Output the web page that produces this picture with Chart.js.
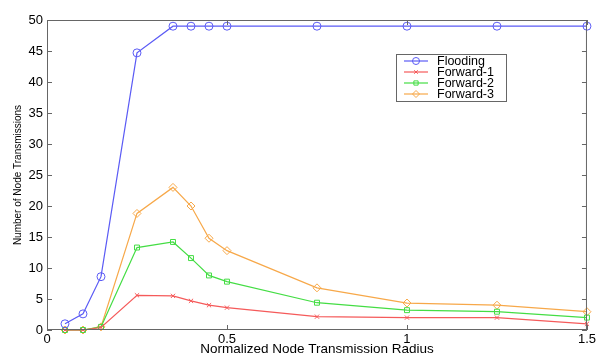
<!DOCTYPE html>
<html><head><meta charset="utf-8">
<script src="https://cdn.jsdelivr.net/npm/chart.js@4/dist/chart.umd.min.js"></script>
<style>html,body{margin:0;padding:0;background:#fff}#wrap{width:598px;height:354px;position:relative}</style>
</head><body><div id="wrap"><canvas id="c" width="598" height="354"></canvas></div>
<script>
const radius = [0.05, 0.1, 0.15, 0.25, 0.35, 0.4, 0.45, 0.5, 0.75, 1, 1.25, 1.5];
const flooding = [1.0, 2.6, 8.6, 44.7, 49, 49, 49, 49, 49, 49, 49, 49];
const forward1 = [0, 0, 0.4, 5.6, 5.5, 4.7, 4.0, 3.6, 2.15, 2.0, 2.0, 1.0];
const forward2 = [0, 0, 0.5, 13.3, 14.2, 11.6, 8.8, 7.8, 4.4, 3.2, 2.95, 2.0];
const forward3 = [0, 0, 0.5, 18.8, 23.0, 20.0, 14.8, 12.8, 6.8, 4.35, 4.0, 2.95];
const xTicks = [0, 0.5, 1, 1.5];
const yTicks = [0, 5, 10, 15, 20, 25, 30, 35, 40, 45, 50];
const seriesNames = ['Flooding', 'Forward-1', 'Forward-2', 'Forward-3'];

const pts = arr => radius.map((x, i) => ({x, y: arr[i]}));
const colors = ['#5b5bf5', '#f55a5a', '#44dd44', '#f7a849'];
const styles = ['circle', 'crossRot', 'rect', 'rectRot'];
const sizes = [4, 3, 3.5, 4];
const dataArr = [flooding, forward1, forward2, forward3];

const datasets = seriesNames.map((n, i) => ({
  label: n, data: pts(dataArr[i]), borderColor: colors[i], backgroundColor: 'rgba(0,0,0,0)',
  pointStyle: styles[i], pointRadius: sizes[i], pointBorderWidth: 1, borderWidth: 1.2,
  pointBorderColor: colors[i], pointBackgroundColor: 'rgba(0,0,0,0)', tension: 0, clip: false
}));

const frame = {
  id: 'frame',
  afterDatasetsDraw(chart) {
    const {ctx, chartArea: a, scales} = chart;
    ctx.save();
    ctx.strokeStyle = '#666'; ctx.lineWidth = 1;
    ctx.strokeRect(a.left + 0.5, a.top + 0.5, a.right - a.left - 1, a.bottom - a.top - 1);
    ctx.beginPath();
    const L = 5;
    yTicks.forEach(v => {
      const y = Math.round(scales.y.getPixelForValue(v)) + 0.5;
      ctx.moveTo(a.left, y); ctx.lineTo(a.left + L, y);
      ctx.moveTo(a.right, y); ctx.lineTo(a.right - L, y);
    });
    xTicks.forEach(v => {
      const x = Math.round(scales.x.getPixelForValue(v)) + 0.5;
      ctx.moveTo(x, a.bottom); ctx.lineTo(x, a.bottom - L);
      ctx.moveTo(x, a.top); ctx.lineTo(x, a.top + L);
    });
    ctx.stroke();
    // legend
    const lx = 396, ly = 54, lw = 110, lh = 47;
    ctx.fillStyle = '#fff';
    ctx.fillRect(lx, ly, lw, lh);
    ctx.strokeStyle = '#666';
    ctx.strokeRect(lx + 0.5, ly + 0.5, lw, lh);
    ctx.font = '12.5px "Liberation Sans", Arial, sans-serif';
    ctx.textBaseline = 'middle';
    chart.data.datasets.forEach((ds, i) => {
      const y = ly + 7 + i * 11;
      ctx.strokeStyle = ds.borderColor; ctx.lineWidth = 1.2;
      ctx.beginPath(); ctx.moveTo(lx + 8, y); ctx.lineTo(lx + 32, y); ctx.stroke();
      ctx.fillStyle = 'rgba(0,0,0,0)';
      ctx.lineWidth = 1;
      Chart.helpers.drawPoint(ctx, {pointStyle: ds.pointStyle, radius: ds.pointRadius - 0.5, borderWidth: 1, rotation: 0}, lx + 20, y);
      ctx.fillStyle = '#000';
      ctx.fillText(ds.label, lx + 41, y + 1);
    });
    ctx.restore();
  }
};

new Chart(document.getElementById('c'), {
  type: 'line',
  data: {datasets},
  options: {
    responsive: false, animation: false,
    layout: {padding: {top: 20, right: 7, left: 0, bottom: 0}},
    plugins: {legend: {display: false}, tooltip: {enabled: false}},
    elements: {line: {fill: false}},
    scales: {
      x: {
        type: 'linear', min: 0, max: 1.5,
        afterBuildTicks: s => { s.ticks = xTicks.map(v => ({value: v})); },
        afterFit: s => { s.height = 24; },
        grid: {display: false, drawTicks: false}, border: {display: false},
        ticks: {color: '#000', font: {size: 13, family: '"Liberation Sans", Arial'}, padding: 2, maxRotation: 0,
          callback: v => String(v)},
        title: {display: true, text: 'Normalized Node Transmission Radius', color: '#000',
          font: {size: 13.5, family: '"Liberation Sans", Arial', lineHeight: 1}, padding: {top: 0, bottom: -2}}
      },
      y: {
        type: 'linear', min: 0, max: 50,
        afterBuildTicks: s => { s.ticks = yTicks.map(v => ({value: v})); },
        afterFit: s => { s.width = 47; },
        grid: {display: false, drawTicks: false}, border: {display: false},
        ticks: {color: '#000', font: {size: 13, family: '"Liberation Sans", Arial'}, padding: 4},
        title: {display: true, text: 'Number of Node Transmissions', color: '#000',
          font: {size: 10, family: '"Liberation Sans", Arial', lineHeight: 1}, padding: {top: 13, bottom: 0}}
      }
    }
  },
  plugins: [frame]
});
</script></body></html>
